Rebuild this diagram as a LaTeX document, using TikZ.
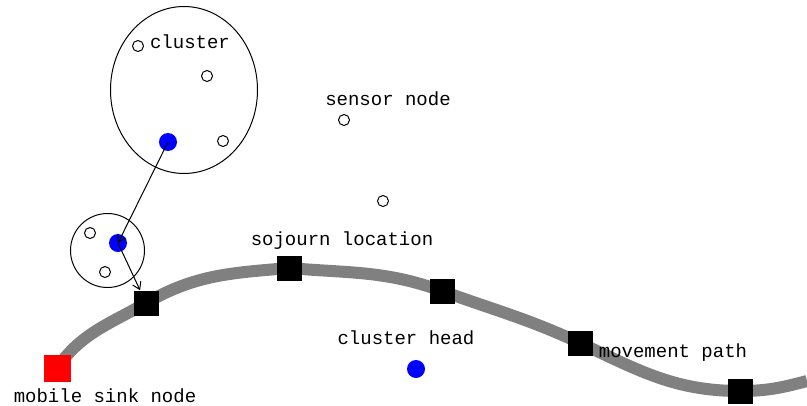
\documentclass[tikz,border=0pt]{standalone}
\usepackage{tikz}
\usepackage{fontspec}
\setmonofont{Liberation Mono}
\usetikzlibrary{arrows.meta,shapes}
\pgfdeclarelayer{background}
\pgfsetlayers{background,main}

\begin{document}
\begin{tikzpicture}[
  sensor/.style={draw,circle,inner sep=0pt,minimum size=11bp,line width=1bp,fill=white},
  head/.style={circle,inner sep=0pt,minimum size=18bp,fill=blue},
  sojourn/.style={rectangle,inner sep=0pt,minimum size=25bp,fill=black},
  txt/.style={font=\ttfamily\fontsize{19bp}{19bp}\selectfont,inner sep=0pt},
  region/.style={draw,line width=1bp},
  link/.style={-{Straight Barb[length=7bp,width=9bp]},line width=1bp},
  movepath/.style={line width=12bp,color=gray}]

\useasboundingbox (0bp,0bp) rectangle (807bp,-406bp);

% clusters
\node (C1) at (184bp,-90bp)[region,ellipse,minimum width=147bp,minimum height=167bp] {};
\node (C2) at (107.5bp,-250.5bp)[region,circle,minimum size=74bp] {};

\node (N1) at (138bp,-46bp)[sensor] {};
\node (N2) at (207bp,-76bp)[sensor] {};
\node (N3) at (223bp,-141bp)[sensor] {};
\node (N4) at (90bp,-233bp)[sensor] {};
\node (N5) at (105bp,-272bp)[sensor] {};
\node (N6) at (344bp,-120bp)[sensor] {};
\node (N7) at (383bp,-201bp)[sensor] {};

\node (H1) at (168bp,-142bp)[head] {};
\node (H2) at (118bp,-243bp)[head] {};
\node (H3) at (416bp,-369bp)[head] {};

% mobile sink and sojourn locations
\node (sink) at (57bp,-368bp)[rectangle,inner sep=0pt,minimum size=27bp,fill=red] {};
\node (S1) at (146bp,-303bp)[sojourn] {};
\node (S2) at (289bp,-268bp)[sojourn] {};
\node (S3) at (442bp,-291bp)[sojourn] {};
\node (S4) at (580bp,-343bp)[sojourn] {};
\node (S5) at (740bp,-391bp)[sojourn] {};
\coordinate (pathend) at (807bp,-381bp);

\begin{pgfonlayer}{background}
\draw [movepath] (sink.center) to[out=55,in=210] (S1.center) to[out=30,in=185] (S2.center)
  to[out=-5,in=160] (S3.center) to[out=-20,in=155] (S4.center)
  to[out=-25,in=180] (S5.center) to[out=0,in=195] (pathend);
\end{pgfonlayer}

\draw [link] (H1.center) -- (H2.center);
\draw [link] (H2.center) -- (S1);

% labels
\node (Lcluster) at (190bp,-42bp)[txt] {cluster};
\node (Lsensor) at (388bp,-99bp)[txt] {sensor node};
\node (Lsojourn) at (342bp,-241bp)[txt] {sojourn location};
\node (Lhead) at (406bp,-338bp)[txt] {cluster head};
\node (Lpath) at (673bp,-353bp)[txt] {movement path};
\node (Lsink) at (105bp,-396bp)[txt] {mobile sink node};
\end{tikzpicture}
\end{document}
